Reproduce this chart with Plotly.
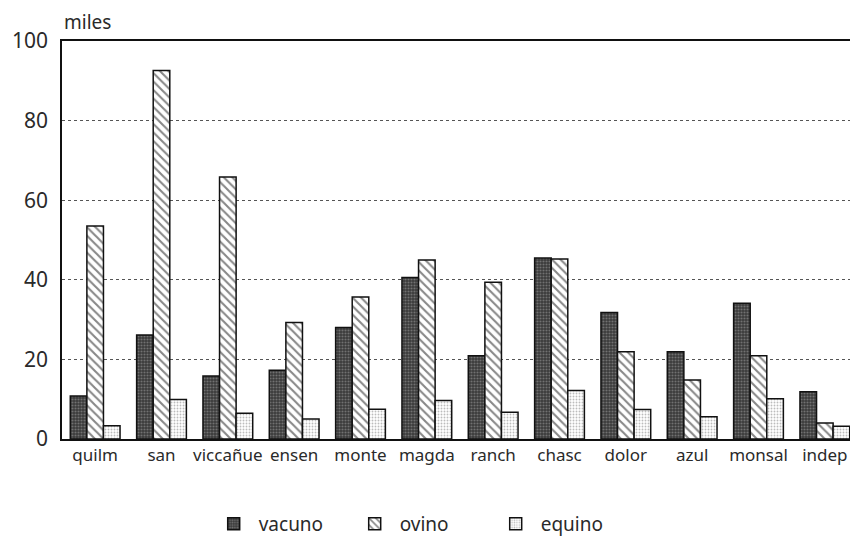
import plotly.graph_objects as go

categories = ["quilm", "san", "viccañue", "ensen", "monte", "magda",
              "ranch", "chasc", "dolor", "azul", "monsal", "indep"]
vacuno = [10.8, 26.1, 15.8, 17.3, 28.0, 40.6, 20.9, 45.5, 31.8, 21.9, 34.1, 11.9]
ovino = [53.5, 92.6, 65.8, 29.3, 35.7, 45.0, 39.4, 45.2, 21.9, 14.8, 20.9, 4.0]
equino = [3.3, 9.9, 6.5, 5.0, 7.5, 9.7, 6.7, 12.2, 7.4, 5.6, 10.1, 3.2]
y_ticks = [0, 20, 40, 60, 80, 100]

FONT = "Noto Sans, DejaVu Sans, sans-serif"
TXT = "#2a2a2a"

fig = go.Figure()
fig.add_bar(
    x=categories, y=vacuno, name="vacuno",
    marker=dict(color="#4a4a4a",
                line=dict(color="#111111", width=1.5),
                pattern=dict(shape=".", fgcolor="#a8a8a8", bgcolor="#3a3a3a",
                             size=3, solidity=0.4)),
)
fig.add_bar(
    x=categories, y=ovino, name="ovino",
    marker=dict(color="white",
                line=dict(color="#111111", width=1.5),
                pattern=dict(shape="\\", fgcolor="#111111", bgcolor="white",
                             size=6, solidity=0.35)),
)
fig.add_bar(
    x=categories, y=equino, name="equino",
    marker=dict(color="white",
                line=dict(color="#111111", width=1.5),
                pattern=dict(shape=".", fgcolor="#7a7a7a", bgcolor="white",
                             size=3, solidity=0.3)),
)

fig.update_layout(
    width=850, height=535,
    margin=dict(l=54, r=0, t=33, b=98),
    paper_bgcolor="white", plot_bgcolor="white",
    barmode="group", bargap=0.25, bargroupgap=0,
    font=dict(family=FONT, color=TXT),
    showlegend=True,
    legend=dict(orientation="h", x=0.45, xanchor="center", y=-0.215, yanchor="middle",
                font=dict(size=19, color=TXT), itemwidth=40,
                traceorder="normal", entrywidth=86),
    annotations=[dict(text="miles", xref="paper", yref="paper", x=0, y=1,
                      xanchor="left", yanchor="bottom", yshift=4, showarrow=False,
                      font=dict(size=19, color=TXT, family=FONT))],
)
fig.update_xaxes(
    showline=True, linecolor="#111111", linewidth=1.5, mirror=True,
    showgrid=False, ticks="", tickfont=dict(size=17, color=TXT),
)
fig.update_yaxes(
    range=[0, 100], tickvals=y_ticks, showline=True, linecolor="#111111", linewidth=1.5,
    showgrid=True, gridcolor="#555555", griddash="dot", gridwidth=1,
    zeroline=False, ticks="", tickfont=dict(size=21, color=TXT), ticklabelstandoff=8,
)

fig.write_html("out.html")
